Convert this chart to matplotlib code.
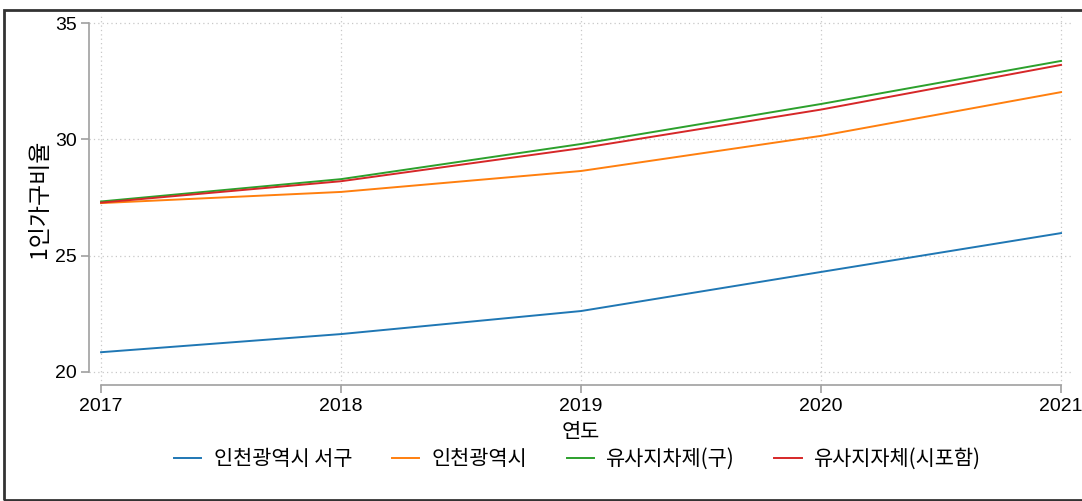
import matplotlib
matplotlib.use('Agg')
import matplotlib.pyplot as plt
from matplotlib.patches import Rectangle

# 데이터
years = [2017, 2018, 2019, 2020, 2021]
seogu = [20.85, 21.63, 22.62, 24.3, 25.97]
incheon = [27.26, 27.74, 28.64, 30.15, 32.03]
similar_gu = [27.33, 28.29, 29.8, 31.52, 33.37]
similar_all = [27.28, 28.2, 29.62, 31.28, 33.2]
series_names = ['인천광역시 서구', '인천광역시', '유사지차제(구)', '유사지자체(시포함)']
yticks = [20, 25, 30, 35]

kr_font = ['Noto Sans CJK KR', 'DejaVu Sans']
num_font = ['Liberation Sans', 'DejaVu Sans']

fig = plt.figure(figsize=(10.82, 5.01), dpi=100)
ax = fig.add_axes([0.0823, 0.2315, 0.9085, 0.7425])

colors = ['#1f77b4', '#ff7f0e', '#2ca02c', '#d62728']
for vals, name, c in zip([seogu, incheon, similar_gu, similar_all], series_names, colors):
    ax.plot(years, vals, color=c, lw=1.4, label=name)

ax.set_xlim(2016.95, 2021.046)
ax.set_ylim(19.44, 35.43)
ax.set_xticks(years)
ax.set_yticks(yticks)

# 격자
ax.grid(True, color='#c8c8c8', linestyle=(0, (1, 2.5)), linewidth=0.9)
ax.set_axisbelow(True)

for s in ['top', 'right']:
    ax.spines[s].set_visible(False)
ax.spines['left'].set_bounds(20, 35)
ax.spines['bottom'].set_bounds(2017, 2021)
for s in ['left', 'bottom']:
    ax.spines[s].set_color('#a0a0a0')
    ax.spines[s].set_linewidth(1.2)
ax.tick_params(axis='both', color='#a0a0a0', length=6, width=1.2, labelsize=14, pad=3)
for lbl in ax.get_xticklabels() + ax.get_yticklabels():
    lbl.set_family(num_font)

ax.set_xlabel('연도', family=kr_font, fontsize=15, labelpad=5)
ax.set_ylabel('1인가구비율', family=kr_font, fontsize=16.5, labelpad=3)

leg = ax.legend(loc='center', bbox_to_anchor=(0.497, -0.1985), ncol=4, frameon=False,
                prop={'family': kr_font, 'size': 15}, handlelength=1.3, columnspacing=1.9,
                handletextpad=0.6)

# 그림 테두리
fig.patches.append(Rectangle((4 / 1082, 1.5 / 501), 1.1, (489.5) / 501, transform=fig.transFigure,
                             fill=False, edgecolor='#333333', linewidth=2, clip_on=False))

fig.savefig('out.png', dpi=100)
